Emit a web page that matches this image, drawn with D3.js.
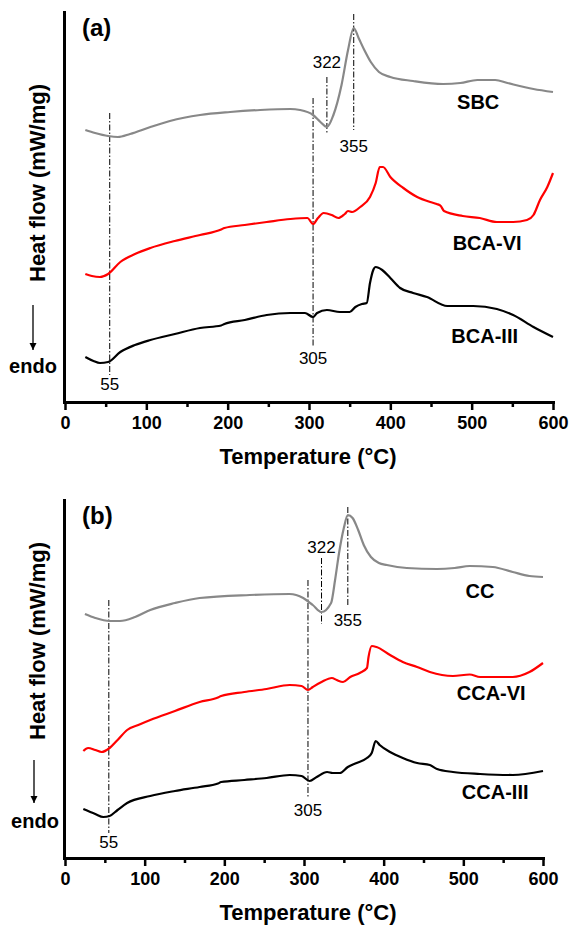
<!DOCTYPE html>
<html>
<head>
<meta charset="utf-8">
<script src="https://cdn.jsdelivr.net/npm/d3@7"></script>
<style>
  html, body { margin: 0; padding: 0; background: #fff; }
  svg { display: block; font-family: "Liberation Sans", Arial, sans-serif; }
</style>
</head>
<body>
<svg id="chart" width="571" height="929"></svg>
<script>
// ---- DSC curves: [temperature °C, heat flow (a.u., exo up)] ----
const sbc = [[25,27.2],[37,26.9],[53,26.6],[65,26.5],[80,26.8],[105,27.5],[129,28.1],[166,28.7],[203,29.0],[240,29.2],[277,29.3],[289,29.2],[305,28.7],[314,28.0],[322,27.5],[330,28.7],[340,31.7],[348,35.2],[355,37.4],[361,36.4],[368,35.2],[376,34.0],[386,33.0],[400,32.5],[428,32.1],[465,31.8],[486,31.9],[507,32.2],[529,32.2],[544,31.9],[576,31.3],[600,31.0]];
const bcaVI = [[25,12.8],[33,12.6],[43,12.5],[53,12.8],[68,14.0],[86,14.8],[105,15.4],[135,16.1],[166,16.7],[192,17.25],[196,17.4],[221,17.7],[248,18.0],[277,18.3],[298,18.4],[305,17.8],[311,18.4],[318,18.9],[328,18.7],[336,18.4],[344,18.8],[348,19.1],[353,19.0],[363,19.5],[375,20.5],[382,21.9],[387,23.5],[391,23.5],[400,22.5],[416,21.4],[433,20.5],[449,20.0],[457,19.8],[462,19.6],[466,19.1],[489,18.6],[510,18.4],[531,18.0],[551,18.0],[568,18.2],[576,18.7],[584,20.2],[593,21.5],[600,22.9]];
const bcaIII = [[25,4.5],[35,4.1],[43,3.9],[53,4.0],[68,5.0],[86,5.7],[105,6.2],[135,6.8],[166,7.4],[192,7.65],[196,7.8],[221,8.2],[248,8.7],[277,8.9],[295,8.9],[305,8.5],[310,8.9],[322,9.2],[338,9.0],[350,9.0],[357,9.5],[365,9.8],[371,9.9],[375,11.9],[379,13.2],[382,13.5],[390,13.2],[400,12.4],[412,11.4],[428,10.9],[445,10.5],[470,9.6],[502,9.6],[531,9.3],[551,8.7],[576,7.5],[600,6.5]];

const cc = [[25,24.4],[38,24.0],[56,23.7],[69,23.7],[88,24.1],[107,24.8],[138,25.5],[169,26.0],[232,26.3],[282,26.4],[299,26.0],[311,25.3],[322,24.6],[334,25.5],[339,27.8],[344,30.5],[350,33.0],[355,34.3],[361,34.0],[368,32.8],[375,31.3],[384,30.1],[394,29.5],[404,29.3],[429,29.0],[467,28.9],[489,29.0],[508,29.2],[537,29.1],[562,28.6],[583,28.2],[600,28.1]];
const ccaVI = [[23,10.7],[29,11.0],[38,10.8],[46,10.6],[56,11.0],[66,11.8],[78,12.8],[92,13.3],[107,13.8],[138,14.7],[169,15.6],[192,16.05],[196,16.2],[225,16.6],[253,16.9],[282,17.3],[297,17.2],[305,16.8],[311,17.1],[322,17.6],[335,18.0],[341,17.8],[349,17.6],[358,18.1],[370,18.5],[379,19.0],[381,20.1],[385,21.2],[391,21.1],[408,20.3],[424,19.6],[442,19.1],[458,18.6],[487,18.2],[508,18.35],[521,18.1],[562,18.1],[583,18.6],[600,19.5]];
const ccaIII = [[23,4.9],[38,4.4],[48,4.1],[56,4.2],[66,4.8],[78,5.5],[107,6.2],[138,6.7],[169,7.1],[192,7.45],[196,7.6],[225,7.8],[253,8.0],[282,8.3],[297,8.2],[307,7.7],[316,8.1],[329,8.6],[336,8.5],[345,8.5],[355,9.1],[366,9.5],[379,10.0],[385,10.5],[390,11.7],[395,11.3],[408,10.6],[424,10.0],[442,9.5],[458,9.3],[467,8.9],[487,8.6],[521,8.4],[562,8.3],[600,8.7]];

// ---- axis ticks and marked transition temperatures ----
const majorTicks = [0, 100, 200, 300, 400, 500, 600];
const minorTicks = [50, 150, 250, 350, 450, 550];
const markedTemps = [55, 305, 322, 355];
const panelLetters = ["(a)", "(b)"];
const seriesNamesA = ["SBC", "BCA-VI", "BCA-III"];
const seriesNamesB = ["CC", "CCA-VI", "CCA-III"];
const seriesColors = ["#888888", "#ff0000", "#000000"];

// ---- layout ----
const panels = [
  {
    letter: panelLetters[0], names: seriesNamesA, curves: [sbc, bcaVI, bcaIII],
    top: 12, bottom: 402, left: 65, right: 553, yMax: 39,
    // reference line extents and label baselines (heat-flow units)
    marks: [
      {top: 28.9, bottom: 2.7, label: 1.2},
      {top: 30.4, bottom: 5.5, label: 3.8},
      {top: 32.5, bottom: 26.9, label: 33.4},
      {top: 38.8, bottom: 27.2, label: 25.0}
    ],
    nameAt: [[508, 29.3], [519, 15.2], [516, 5.9]],
    yLabelCenter: 183, arrow: [305, 350], arrowX: 33, endoY: 373, endoX: 33
  },
  {
    letter: panelLetters[1], names: seriesNamesB, curves: [cc, ccaVI, ccaIII],
    top: 500, bottom: 858, left: 65, right: 543, yMax: 35.8,
    marks: [
      {top: 25.8, bottom: 2.5, label: 1.0},
      {top: 27.8, bottom: 6.0, label: 4.2},
      {top: 30.0, bottom: 23.4, label: 30.5},
      {top: 35.1, bottom: 25.1, label: 23.2}
    ],
    nameAt: [[521, 26.0], [535, 15.8], [540, 5.9]],
    yLabelCenter: 641, arrow: [760, 803], arrowX: 34, endoY: 828, endoX: 35
  }
];

const svg = d3.select("#chart");

svg.append("defs").append("marker")
  .attr("id", "arrowhead")
  .attr("viewBox", "0 0 10 10")
  .attr("refX", 10).attr("refY", 5)
  .attr("markerWidth", 7).attr("markerHeight", 9)
  .attr("markerUnits", "userSpaceOnUse")
  .attr("orient", "auto")
  .append("path").attr("d", "M0,0 L10,5 L0,10 Z").attr("fill", "#000");

panels.forEach(p => {
  const g = svg.append("g");
  const x = d3.scaleLinear().domain([0, 600]).range([p.left, p.right]);
  const y = d3.scaleLinear().domain([0, p.yMax]).range([p.bottom, p.top]);

  // marked transition lines (dash-dot)
  markedTemps.forEach((t, i) => {
    const m = p.marks[i];
    g.append("line")
      .attr("x1", x(t)).attr("x2", x(t))
      .attr("y1", y(m.top)).attr("y2", y(m.bottom))
      .attr("stroke", "#000").attr("stroke-width", 1)
      .attr("stroke-dasharray", "6,2,1.5,2");
    g.append("text")
      .attr("x", x(t)).attr("y", y(m.label))
      .attr("text-anchor", "middle")
      .attr("font-size", 17)
      .attr("fill", "#000")
      .text(t);
  });

  // curves
  const line = d3.line()
    .x(d => x(d[0])).y(d => y(d[1]))
    .curve(d3.curveMonotoneX);
  p.curves.forEach((c, i) => {
    g.append("path")
      .datum(c)
      .attr("d", line)
      .attr("fill", "none")
      .attr("stroke", seriesColors[i])
      .attr("stroke-width", 2.2)
      .attr("stroke-linejoin", "round");
  });

  // series names
  p.names.forEach((n, i) => {
    g.append("text")
      .attr("x", x(p.nameAt[i][0])).attr("y", y(p.nameAt[i][1]))
      .attr("text-anchor", "middle")
      .attr("font-size", 20).attr("font-weight", "bold")
      .text(n);
  });

  // x axis: major + minor ticks
  const xAxis = g.append("g")
    .attr("transform", `translate(0,${p.bottom})`)
    .call(d3.axisBottom(x).tickValues(majorTicks).tickSize(8).tickSizeOuter(0).tickPadding(6));
  xAxis.select(".domain").attr("stroke-width", 3).attr("stroke-linecap", "square");
  xAxis.selectAll(".tick line").attr("stroke-width", 2.5);
  xAxis.selectAll(".tick text")
    .attr("font-size", 18).attr("font-weight", "bold")
    .attr("font-family", "'Liberation Sans', Arial, sans-serif");
  g.append("g")
    .attr("transform", `translate(0,${p.bottom})`)
    .call(d3.axisBottom(x).tickValues(minorTicks).tickSize(5).tickSizeOuter(0).tickFormat(""))
    .call(s => s.select(".domain").remove())
    .selectAll(".tick line").attr("stroke-width", 2.5);

  // y axis: plain line, no ticks
  const yAxis = g.append("g")
    .attr("transform", `translate(${p.left - 1},0)`)
    .call(d3.axisLeft(y).tickValues([]).tickSizeOuter(0));
  yAxis.select(".domain").attr("stroke-width", 3).attr("stroke-linecap", "square");

  // axis titles
  g.append("text")
    .attr("x", 308).attr("y", p.bottom + 62)
    .attr("text-anchor", "middle")
    .attr("font-size", 22).attr("font-weight", "bold")
    .text("Temperature (°C)");
  g.append("text")
    .attr("transform", `translate(45,${p.yLabelCenter}) rotate(-90)`)
    .attr("text-anchor", "middle")
    .attr("font-size", 22).attr("font-weight", "bold")
    .text("Heat flow (mW/mg)");

  // endothermic direction arrow
  g.append("line")
    .attr("x1", p.arrowX).attr("x2", p.arrowX)
    .attr("y1", p.arrow[0]).attr("y2", p.arrow[1])
    .attr("stroke", "#000").attr("stroke-width", 1.3)
    .attr("marker-end", "url(#arrowhead)");
  g.append("text")
    .attr("x", p.endoX).attr("y", p.endoY)
    .attr("text-anchor", "middle")
    .attr("font-size", 20).attr("font-weight", "bold")
    .text("endo");

  // panel letter
  g.append("text")
    .attr("x", 82).attr("y", p.top + 24)
    .attr("font-size", 24).attr("font-weight", "bold")
    .text(p.letter);
});
</script>
</body>
</html>
